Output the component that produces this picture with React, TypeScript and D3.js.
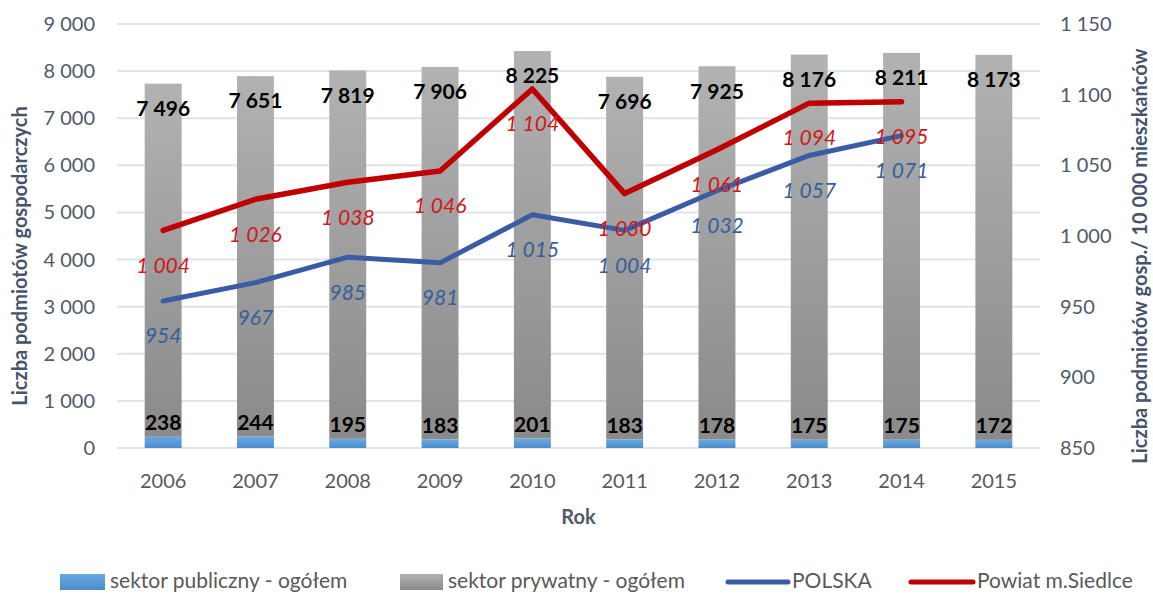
import React from "react";
import * as d3 from "d3";

const years = ["2006", "2007", "2008", "2009", "2010", "2011", "2012", "2013", "2014", "2015"];
const publicSector = [238, 244, 195, 183, 201, 183, 178, 175, 175, 172];
const privateSector = [7496, 7651, 7819, 7906, 8225, 7696, 7925, 8176, 8211, 8173];
const polska = [954, 967, 985, 981, 1015, 1004, 1032, 1057, 1071];
const siedlce = [1004, 1026, 1038, 1046, 1104, 1030, 1061, 1094, 1095];
const leftTicks = [0, 1000, 2000, 3000, 4000, 5000, 6000, 7000, 8000, 9000];
const rightTicks = [850, 900, 950, 1000, 1050, 1100, 1150];

const W = 1153, H = 595;
const left = 117, right = 1040, top = 24, bottom = 448;
const FONT = "Lato, 'Open Sans', sans-serif";

const fmt = (v: number) => {
  const s = String(v);
  return s.length > 3 ? s.slice(0, s.length - 3) + " " + s.slice(-3) : s;
};

export default function App() {
  const x = d3.scaleBand<string>().domain(years).range([left, right]).paddingInner(0.6).paddingOuter(0.3);
  const y = d3.scaleLinear().domain([0, 9000]).range([bottom, top]);
  const y2 = d3.scaleLinear().domain([850, 1150]).range([bottom, top]);
  const cx = (i: number) => (x(years[i]) as number) + x.bandwidth() / 2;
  const line = d3.line<number>().x((_, i) => cx(i)).y((d) => y2(d));

  return (
    <svg width={W} height={H} style={{ position: "absolute", left: 0, top: 0, background: "#fff" }} fontFamily={FONT}>
      <defs>
        <linearGradient id="gray" x1="0" y1="0" x2="0" y2="1">
          <stop offset="0" stopColor="#b2b2b2" />
          <stop offset="1" stopColor="#8a8a8a" />
        </linearGradient>
        <linearGradient id="blue" x1="0" y1="0" x2="0" y2="1">
          <stop offset="0" stopColor="#6aa8e0" />
          <stop offset="1" stopColor="#4a8ccc" />
        </linearGradient>
      </defs>
      <rect width={W} height={H} fill="#fff" />
      {leftTicks.map((t) => (
        <g key={t}>
          <line x1={left} x2={right} y1={y(t)} y2={y(t)} stroke="#dfe3ea" strokeWidth={2} />
          <text x={95} y={y(t)} dy="0.35em" textAnchor="end" fontSize={20} fill="#505a6a">{fmt(t)}</text>
        </g>
      ))}
      {rightTicks.map((t) => (
        <text key={t} x={1060} y={y2(t)} dy="0.35em" textAnchor="start" fontSize={20} fill="#505a6a">{fmt(t)}</text>
      ))}
      {years.map((yr, i) => {
        const x0 = x(yr) as number;
        const bw = x.bandwidth();
        const pub = publicSector[i];
        const tot = pub + privateSector[i];
        return (
          <g key={yr}>
            <rect x={x0} y={y(tot)} width={bw} height={y(pub) - y(tot)} fill="url(#gray)" />
            <rect x={x0} y={y(pub)} width={bw} height={y(0) - y(pub)} fill="url(#blue)" />
            <text x={cx(i)} y={y(tot) + 25} dy="0.35em" textAnchor="middle" fontSize={21} fontWeight="bold" fill="#000">{fmt(privateSector[i])}</text>
            <text x={cx(i)} y={y(pub) - 14} dy="0.35em" textAnchor="middle" fontSize={21} fontWeight="bold" fill="#000">{fmt(pub)}</text>
            <text x={cx(i)} y={481} dy="0.35em" textAnchor="middle" fontSize={20} fill="#595959">{yr}</text>
          </g>
        );
      })}
      <path d={line(polska) || ""} fill="none" stroke="#3a5ca4" strokeWidth={5} strokeLinejoin="round" strokeLinecap="round" />
      <path d={line(siedlce) || ""} fill="none" stroke="#c00000" strokeWidth={5.5} strokeLinejoin="round" strokeLinecap="round" />
      {polska.map((v, i) => (
        <text key={"p" + i} x={cx(i)} y={y2(v) + 35} dy="0.35em" textAnchor="middle" fontSize={21} fontStyle="italic" fill="#34609a">{fmt(v)}</text>
      ))}
      {siedlce.map((v, i) => (
        <text key={"s" + i} x={cx(i)} y={y2(v) + 35} dy="0.35em" textAnchor="middle" fontSize={21} fontStyle="italic" fill="#d01818">{fmt(v)}</text>
      ))}
      <text x={(left + right) / 2} y={517} dy="0.35em" textAnchor="middle" fontSize={20} fontWeight="bold" fill="#505a6a">Rok</text>
      <text transform={`translate(20,${(top + bottom) / 2 + 20}) rotate(-90)`} textAnchor="middle" dy="0.35em" fontSize={20} fontWeight="bold" fill="#44546a">Liczba podmiotów gospodarczych</text>
      <text transform={`translate(1140,${(top + bottom) / 2 + 20}) rotate(-90)`} textAnchor="middle" dy="0.35em" fontSize={20} fontWeight="bold" fill="#44546a">Liczba podmiotów gosp./ 10 000 mieszkańców</text>
      <g fontSize={21} fill="#595959">
        <rect x={60} y={574} width={45} height={16} fill="url(#blue)" />
        <text x={110} y={581} dy="0.35em">sektor publiczny - ogółem</text>
        <rect x={400} y={574} width={43} height={16} fill="url(#gray)" />
        <text x={448} y={581} dy="0.35em">sektor prywatny - ogółem</text>
        <line x1={728} x2={788} y1={582} y2={582} stroke="#3a5ca4" strokeWidth={5} strokeLinecap="round" />
        <text x={792} y={581} dy="0.35em">POLSKA</text>
        <line x1={911} x2={973} y1={582} y2={582} stroke="#c00000" strokeWidth={5} strokeLinecap="round" />
        <text x={977} y={581} dy="0.35em">Powiat m.Siedlce</text>
      </g>
    </svg>
  );
}
